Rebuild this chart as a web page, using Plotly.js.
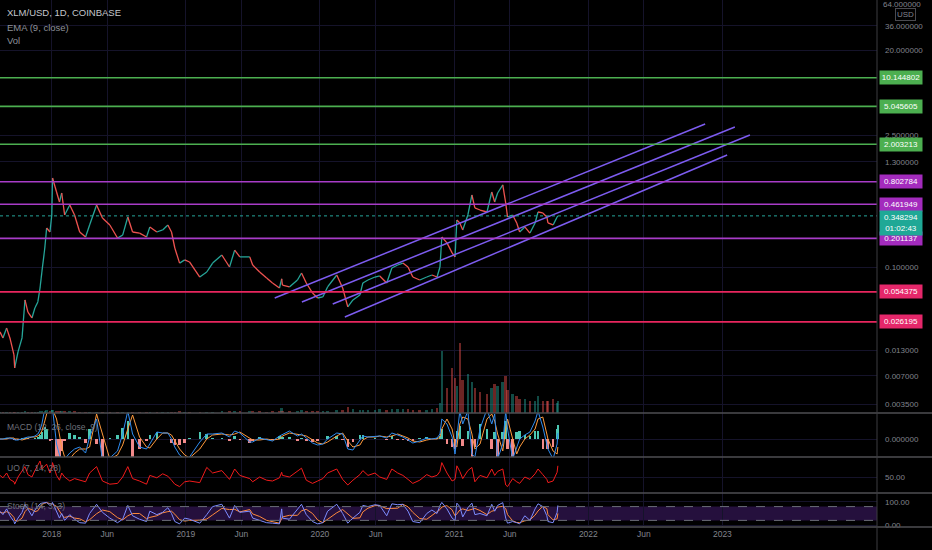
<!DOCTYPE html>
<html><head><meta charset="utf-8">
<script src="https://cdn.plot.ly/plotly-3.0.1.min.js"></script>
<style>html,body{margin:0;padding:0;background:#000;}#chart{width:932px;height:550px;}</style>
</head><body><div id="chart"></div>
<script>
// ---- data ----
const dates = ["2017-08-13","2017-08-21","2017-08-31","2017-09-09","2017-09-20","2017-09-22","2017-10-01","2017-10-12","2017-10-20","2017-10-28",
"2017-11-08","2017-11-16","2017-11-24","2017-11-30","2017-12-05","2017-12-13","2017-12-18","2017-12-27","2018-01-01","2018-01-03",
"2018-01-14","2018-01-22","2018-01-28","2018-02-05","2018-02-19","2018-03-04","2018-03-18","2018-04-03","2018-04-14","2018-05-03",
"2018-05-19","2018-06-08","2018-06-29","2018-07-13","2018-07-27","2018-08-09","2018-08-28","2018-09-16","2018-09-25","2018-10-14",
"2018-10-30","2018-11-13","2018-11-23","2018-12-02","2018-12-15","2018-12-29","2019-01-11","2019-02-08","2019-02-27","2019-03-15",
"2019-04-09","2019-04-30","2019-05-14","2019-05-28","2019-06-24","2019-07-02","2019-07-21","2019-08-09","2019-08-25","2019-09-13",
"2019-09-19","2019-09-21","2019-10-10","2019-11-01","2019-11-12","2019-11-25","2019-12-12","2019-12-26","2020-01-09","2020-01-22",
"2020-02-16","2020-03-03","2020-03-17","2020-03-31","2020-04-19","2020-04-27","2020-05-11","2020-05-30","2020-06-12","2020-07-01",
"2020-07-15","2020-07-31","2020-08-14","2020-08-28","2020-09-10","2020-09-29","2020-10-18","2020-11-01","2020-11-15","2020-11-23",
"2020-11-28","2020-12-12","2020-12-26","2021-01-03","2021-01-08","2021-01-16","2021-01-24","2021-02-07","2021-02-18","2021-02-26",
"2021-03-12","2021-03-31","2021-04-13","2021-04-21","2021-04-29","2021-05-13","2021-05-21","2021-05-26","2021-06-09","2021-06-20",
"2021-06-28","2021-07-12","2021-07-26","2021-08-09","2021-08-17","2021-08-30","2021-09-10","2021-09-13","2021-09-27","2021-10-08",
"2021-10-10"];
const price = [0.0205,0.0177,0.0225,0.0177,0.0117,0.0085,0.0126,0.0177,0.0447,0.0333,
0.0288,0.0367,0.0426,0.0599,0.0885,0.159,0.259,0.235,0.356,0.879,
0.624,0.489,0.609,0.356,0.455,0.356,0.235,0.208,0.279,0.455,
0.331,0.279,0.203,0.218,0.339,0.235,0.229,0.208,0.266,0.235,
0.247,0.279,0.235,0.159,0.110,0.119,0.113,0.0783,0.0885,0.110,
0.134,0.100,0.151,0.128,0.128,0.105,0.0885,0.0764,0.0677,0.0599,
0.075,0.0644,0.0614,0.0728,0.0864,0.0677,0.0530,0.0469,0.0481,0.0614,
0.0823,0.0599,0.0377,0.0447,0.0505,0.0677,0.0728,0.0783,0.0803,0.0677,
0.0976,0.105,0.110,0.100,0.0783,0.0728,0.0783,0.0823,0.0783,0.100,
0.208,0.180,0.141,0.128,0.315,0.293,0.247,0.356,0.580,0.423,
0.402,0.383,0.624,0.489,0.609,0.741,0.477,0.339,0.356,0.293,
0.235,0.266,0.229,0.293,0.383,0.374,0.339,0.293,0.279,0.339,
0.348];
// volume, millions XLM
const volume = [2,2,2,2,3,3,2,2,4,3, 3,3,3,4,5,6,7,6,7,8,
6,5,5,5,4,4,3,3,3,3, 3,3,2,2,3,2,2,2,2,2, 2,2,2,3,4,3,3,3,3,3,
4,4,5,5,4,4,4,3,4,4, 12,6,5,6,8,6,5,5,6,6, 7,8,14,9,8,7,7,8,9,8,
10,9,10,9,8,8,8,9,12,25, 150,60,110,85,65,170,80,95,75,60,
50,45,60,70,65,75,90,55,45,40, 35,35,30,30,40,30,28,30,35,25, 28];
// MACD (12, 26, close, 9), in thousandths of USD
const macdLine = [0,0,1,1,0,-1,-1,0,1,2, 2,3,5,9,15,30,29,28,29,30,
-5,-16,-20,-20,-14,-10,-8,-14,2,20, -21,-19,-12,5,28,5,-8,-10,-5,7,
6,6,0,-8,-16,-20,-18,-3,5,5, 6,2,8,6,-3,-3,1,-1,-2,3,
4,5,8,3,5,1,-4,-6,-5,0, 6,5,-10,-11,-2,3,2,3,3,1,
6,4,2,-1,-4,-2,1,0,1,5, 20,15,2,-15,0,28,15,28,-15,-18,
10,30,15,25,-20,-5,28,10,-20,-8, 0,4,7,18,28,12,-5,-10,-20,-5, 6];
const macdSignal = [0,0,0,1,1,0,0,-1,0,1, 2,2,3,5,8,18,25,30,30,30,
20,5,-8,-18,-20,-14,-10,-10,-8,25, 5,-20,-16,-6,10,24,2,-8,-9,0,
6,6,4,-2,-10,-16,-19,-10,0,4, 5,4,5,7,1,-1,-1,0,-1,0,
2,3,6,5,4,3,-1,-4,-5,-3, 3,6,-2,-8,-6,-1,2,2,3,2,
3,5,3,1,-2,-3,-1,0,0,2, 10,20,10,-5,-8,15,22,20,5,-10,
-5,20,25,18,5,-12,10,20,0,-15, -8,0,4,10,20,22,5,0,-12,-15, -8];
const macdHist = [0,0,1,0,-1,-1,-1,1,1,1, 0,1,2,4,7,12,10,-2,-1,0,
-18,-18,-12,-2,6,4,2,-4,10,-5, -18,1,4,11,18,-19,-10,-2,4,7,
0,0,-4,-6,-6,-4,1,7,5,1, 1,-2,3,-1,-4,-2,2,-1,-1,3,
2,2,2,-2,1,-2,-3,-2,0,3, 3,-1,-8,-3,4,4,0,1,0,-1,
3,-1,-1,-2,-2,1,2,0,1,3, 10,-5,-8,-10,8,13,-7,8,-18,-8,
15,10,-10,7,-18,7,18,-10,-18,7, 8,4,3,8,8,-10,-10,-10,-8,10, 14];
// UO (7, 14, 28)
const uo = [52,49,55,47,44,41,50,57,63,53, 50,58,66,70,60,64,66,55,61,68,
52,46,55,50,45,48,46,44,55,63, 45,41,42,50,63,48,45,41,52,49,
54,51,46,41,38,44,45,43,62,55, 58,47,60,52,48,44,50,46,45,49,
56,52,50,57,61,46,42,45,48,55, 60,47,40,46,53,58,52,55,50,47,
60,55,52,47,42,46,53,50,52,57, 68,55,45,47,64,57,48,58,62,44,
52,49,60,52,57,60,40,38,48,44, 42,50,47,54,60,53,47,43,45,56, 64];
// Stoch (14, 3, 3)
const stochK = [60,45,70,40,15,5,30,55,90,70, 40,65,80,92,95,97,98,85,90,98,
55,30,50,20,45,25,10,8,50,90, 55,30,10,25,85,40,25,15,60,45,
55,75,50,15,5,30,25,8,45,80, 90,30,85,55,60,30,20,10,8,5,
70,30,25,70,90,45,15,5,10,60, 90,50,8,30,55,85,80,88,85,40,
92,88,90,60,15,10,50,65,50,85, 98,70,30,20,95,80,35,75,95,45,
50,40,90,60,85,97,30,8,15,10, 5,40,20,70,92,80,40,15,10,55, 85];
const stochD = [55,52,58,52,33,20,17,30,58,72, 67,58,62,79,89,95,97,93,91,91,
81,61,45,33,38,30,27,14,23,49, 65,58,32,22,40,50,50,27,33,40,
53,58,60,47,23,17,20,21,26,44, 72,67,68,57,67,48,37,20,13,8,
28,35,42,42,62,68,50,22,10,25, 53,67,49,29,31,57,73,84,84,71,
72,73,90,79,55,28,25,42,55,67, 78,84,66,40,48,65,70,63,68,72,
63,45,60,63,78,81,71,45,18,11, 10,18,22,43,61,81,71,45,22,27, 50];
// horizontal levels
const greenLevels = [10.144802, 5.045605, 2.003213];
const purpleLevels = [0.802784, 0.461949, 0.201137];
const pinkLevels = [0.054375, 0.026195];
const lastPrice = 0.348294;
const countdown = "01:02:43";
// parallel channel lines (start / end)
const chStartDates = ["2019-08-31","2019-11-13","2020-02-05","2020-03-09"];
const chStartVals = [0.0469, 0.0426, 0.0405, 0.0295];
const chEndDates = ["2022-11-15","2023-02-04","2023-03-17","2023-01-14"];
const chEndVals = [3.28, 3.05, 2.51, 1.54];
// axis ticks
const topTick = 64;
const priceTicks = [36, 20, 2.5, 1.3, 0.1, 0.013, 0.007, 0.0035];
const xTickVals = ["2018-01-01","2018-06-01","2019-01-01","2019-06-01","2020-01-01","2020-06-01","2021-01-01","2021-06-01","2022-01-01","2022-06-01","2023-01-01"];
const xTickText = ["2018","Jun","2019","Jun","2020","Jun","2021","Jun","2022","Jun","2023"];

// ---- build ----
const UP = '#26a69a', DOWN = '#ef5350';
const FONT = 'Liberation Sans, Arial, sans-serif';
const GRID = '#15132a';
const TXT = '#80838c';

function segs(up){
  const x=[], y=[];
  for(let i=1;i<dates.length;i++){
    const isUp = price[i] >= price[i-1];
    if(isUp===up){ x.push(dates[i-1],dates[i],null); y.push(price[i-1],price[i],null); }
  }
  return {x,y};
}
const su = segs(true), sd = segs(false);
const volColors = price.map((p,i)=> (i===0 || p>=price[i-1]) ? 'rgba(38,166,154,0.45)' : 'rgba(239,83,80,0.45)');
const histColors = macdHist.map(v => v>=0 ? '#4cc7b3' : '#f28a8a');

const traces = [];
traces.push({type:'bar', x:dates, y:volume, xaxis:'x', yaxis:'y5', marker:{color:volColors, line:{width:0}}, width:7*86400000, hoverinfo:'skip'});
traces.push({type:'scatter', mode:'lines', x:su.x, y:su.y, line:{color:UP, width:1.3}, xaxis:'x', yaxis:'y', hoverinfo:'skip'});
traces.push({type:'scatter', mode:'lines', x:sd.x, y:sd.y, line:{color:DOWN, width:1.3}, xaxis:'x', yaxis:'y', hoverinfo:'skip'});
for(let k=0;k<chStartDates.length;k++){
  traces.push({type:'scatter', mode:'lines', x:[chStartDates[k],chEndDates[k]], y:[chStartVals[k],chEndVals[k]],
    line:{color:'#7d5cf0', width:1.5}, xaxis:'x', yaxis:'y', hoverinfo:'skip'});
}
traces.push({type:'bar', x:dates, y:macdHist, xaxis:'x', yaxis:'y2', marker:{color:histColors, line:{width:0}}, width:7*86400000, hoverinfo:'skip'});
traces.push({type:'scatter', mode:'lines', x:dates, y:macdSignal, line:{color:'#ff9a3c', width:1}, xaxis:'x', yaxis:'y2', hoverinfo:'skip'});
traces.push({type:'scatter', mode:'lines', x:dates, y:macdLine, line:{color:'#2f8cf0', width:1}, xaxis:'x', yaxis:'y2', hoverinfo:'skip'});
traces.push({type:'scatter', mode:'lines', x:dates, y:uo, line:{color:'#f21b1b', width:1}, xaxis:'x', yaxis:'y3', hoverinfo:'skip'});
traces.push({type:'scatter', mode:'lines', x:dates, y:stochD, line:{color:'#ff8a3d', width:1}, xaxis:'x', yaxis:'y4', hoverinfo:'skip'});
traces.push({type:'scatter', mode:'lines', x:dates, y:stochK, line:{color:'#7d8cff', width:1}, xaxis:'x', yaxis:'y4', hoverinfo:'skip'});

const H = 527; // plot height in px
const py = p => 1 - p/H;
const dMain=[py(413),1], dMacd=[py(457),py(413)], dUo=[py(493),py(457)], dSto=[0,py(493)];

const shapes = [];
function hline(v, color, width, dash){
  shapes.push({type:'line', xref:'paper', x0:0, x1:1, yref:'y', y0:v, y1:v, line:{color, width, dash:dash||'solid'}});
}
greenLevels.forEach(v=>hline(v,'#4caf50',1.6));
purpleLevels.forEach(v=>hline(v,'#a83cc8',1.6));
pinkLevels.forEach(v=>hline(v,'#e8265e',1.8));
hline(lastPrice,'#26a69a',1,'dot');
// stoch band
shapes.push({type:'rect', xref:'paper', x0:0, x1:1, yref:'y4', y0:20, y1:80, fillcolor:'rgba(105,45,175,0.35)', line:{width:0}, layer:'below'});
[20,80].forEach(v=>shapes.push({type:'line', xref:'paper', x0:0, x1:1, yref:'y4', y0:v, y1:v, line:{color:'#6b6e78', width:1, dash:'dash'}}));
// pane separators
[dMain[0], dMacd[0], dUo[0], 0].forEach(v=>shapes.push({type:'line', xref:'paper', yref:'paper', x0:0, x1:932/877, y0:v, y1:v, line:{color:'#4e4e52', width:1.5}}));
shapes.push({type:'line', xref:'paper', yref:'paper', x0:1, x1:1, y0:-23/H, y1:1, line:{color:'#3c3c40', width:1}});

const annotations = [];
function badge(v, bg, text, h){
  annotations.push({xref:'paper', x:1, xanchor:'left', xshift:2, yref:'y', y:Math.log10(v), yanchor:'middle',
    text:text, showarrow:false, bgcolor:bg, font:{family:FONT, size:8, color:'#ffffff'}, width:40, height:h||11, borderpad:1});
}
greenLevels.forEach(v=>badge(v,'#4caf50',v.toFixed(6)));
purpleLevels.forEach(v=>badge(v,'#a32bbd',v.toFixed(6)));
pinkLevels.forEach(v=>badge(v,'#e5276a',v.toFixed(6)));
annotations.push({xref:'paper', x:1, xanchor:'left', xshift:2, yref:'y', y:Math.log10(lastPrice), yanchor:'top', yshift:6,
  text:lastPrice.toFixed(6)+'<br>'+countdown, showarrow:false, bgcolor:'#1fa896', font:{family:FONT, size:8, color:'#ffffff'}, width:40, height:22, borderpad:1});
// top price label (kept fully inside the picture)
annotations.push({xref:'paper', x:1, xanchor:'left', xshift:5, yref:'paper', y:1, yanchor:'top', yshift:1, text:topTick.toFixed(6), showarrow:false,
  font:{family:FONT, size:8, color:TXT}, borderpad:0});
annotations.push({xref:'paper', x:905/877, xanchor:'center', yref:'paper', y:py(15), yanchor:'middle', text:'USD', showarrow:false,
  font:{family:FONT, size:8, color:TXT}, bordercolor:'#4a4a50', borderwidth:1, borderpad:1});
function label(text, ypx, color, size){
  annotations.push({xref:'paper', x:5/877, xanchor:'left', yref:'paper', y:py(ypx), yanchor:'middle', text, showarrow:false,
    font:{family:FONT, size:size||8.5, color}});
}
label('XLM/USD, 1D, COINBASE', 13, '#c4c6cc', 9.5);
label('EMA (9, close)', 27, '#8d9098', 9.5);
label('Vol', 41, '#8d9098', 9.5);
label('MACD (12, 26, close, 9)', 427, '#6f727b', 8.5);
label('UO (7, 14, 28)', 468, '#6f727b', 8.5);
label('Stoch (14, 3, 3)', 506, '#6f727b', 8.5);

const yBase = {side:'right', anchor:'x', showgrid:true, gridcolor:GRID, zeroline:false, showline:false, ticks:'',
  tickfont:{family:FONT, size:8, color:TXT}, ticklabelstandoff:7, fixedrange:true};
const layout = {
  width:932, height:550, margin:{l:0, r:55, t:0, b:23},
  paper_bgcolor:'#000', plot_bgcolor:'#000', showlegend:false, bargap:0,
  xaxis:{type:'date', range:['2017-08-13','2024-02-26'], anchor:'y4', tickmode:'array', tickvals:xTickVals, ticktext:xTickText,
    showgrid:true, gridcolor:GRID, zeroline:false, showline:false, ticks:'', tickfont:{family:FONT, size:8.5, color:TXT}, fixedrange:true},
  yaxis:Object.assign({}, yBase, {domain:dMain, type:'log', range:[Math.log10(0.00283), Math.log10(67.8)],
    tickmode:'array', tickvals:priceTicks, ticktext:priceTicks.map(v=>v.toFixed(6))}),
  yaxis2:Object.assign({}, yBase, {domain:dMacd, range:[-18,26], tickmode:'array', tickvals:[0], ticktext:['0.000000']}),
  yaxis3:Object.assign({}, yBase, {domain:dUo, range:[30,75], tickmode:'array', tickvals:[50], ticktext:['50.00']}),
  yaxis4:Object.assign({}, yBase, {domain:dSto, range:[-8.7,139], tickmode:'array', tickvals:[0,100], ticktext:['0.00','100.00']}),
  yaxis5:{overlaying:'y', anchor:'x', range:[0,1000], visible:false, fixedrange:true},
  shapes, annotations
};
Plotly.newPlot('chart', traces, layout, {displayModeBar:false, staticPlot:true});
</script>
</body></html>
